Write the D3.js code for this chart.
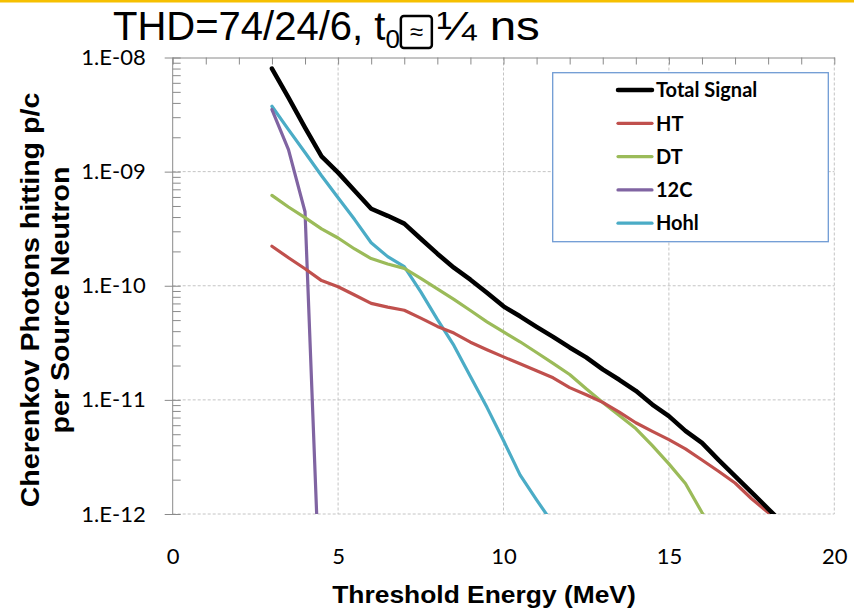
<!DOCTYPE html>
<html>
<head>
<meta charset="utf-8">
<script src="https://cdn.jsdelivr.net/npm/d3@7"></script>
<style>
  body { margin: 0; background: #fff; }
  svg { display: block; }
</style>
</head>
<body>
<div id="chart"></div>
<script>
// threshold energies (MeV)
var energy = [3, 3.5, 4, 4.5, 5, 5.5, 6, 6.5, 7, 7.5, 8, 8.5, 9, 9.5, 10, 10.5,
              11, 11.5, 12, 12.5, 13, 13.5, 14, 14.5, 15, 15.5, 16, 16.5, 17, 17.5, 18, 18.5];

var totalSignal = [8.0e-9, 4.45e-9, 2.43e-9, 1.36e-9, 9.8e-10, 6.8e-10, 4.73e-10, 4.1e-10,
                   3.5e-10, 2.58e-10, 1.91e-10, 1.44e-10, 1.13e-10, 8.7e-11, 6.6e-11, 5.4e-11,
                   4.37e-11, 3.57e-11, 2.88e-11, 2.36e-11, 1.85e-11, 1.5e-11, 1.2e-11, 9.1e-12,
                   7.2e-12, 5.35e-12, 4.2e-12, 2.98e-12, 2.15e-12, 1.55e-12, 1.11e-12, 8.0e-13];

var htSignal = [2.22e-10, 1.76e-10, 1.41e-10, 1.11e-10, 9.8e-11, 8.3e-11, 7.0e-11, 6.5e-11,
                6.1e-11, 5.2e-11, 4.4e-11, 3.85e-11, 3.2e-11, 2.75e-11, 2.38e-11, 2.07e-11,
                1.8e-11, 1.56e-11, 1.28e-11, 1.11e-11, 9.5e-12, 7.8e-12, 6.3e-12, 5.3e-12,
                4.48e-12, 3.72e-12, 2.97e-12, 2.37e-12, 1.87e-12, 1.36e-12, 1.03e-12, 7.6e-13];

var dtSignal = [6.2e-10, 4.9e-10, 3.95e-10, 3.15e-10, 2.62e-10, 2.1e-10, 1.73e-10, 1.55e-10,
                1.42e-10, 1.16e-10, 9.4e-11, 7.6e-11, 6.07e-11, 4.83e-11, 3.94e-11, 3.23e-11,
                2.6e-11, 2.09e-11, 1.67e-11, 1.25e-11, 9.5e-12, 7.3e-12, 5.6e-12, 3.97e-12,
                2.75e-12, 1.85e-12, 1.03e-12, 6.0e-13, null, null, null, null];

var c12Signal = [3.5e-9, 1.56e-9, 4.45e-10, 7.7e-14, null, null, null, null,
                 null, null, null, null, null, null, null, null,
                 null, null, null, null, null, null, null, null,
                 null, null, null, null, null, null, null, null];

var hohlSignal = [3.74e-9, 2.33e-9, 1.47e-9, 9.2e-10, 5.9e-10, 3.8e-10, 2.38e-10, 1.8e-10,
                  1.47e-10, 8.85e-11, 5.07e-11, 3.0e-11, 1.6e-11, 8.6e-12, 4.4e-12, 2.2e-12,
                  1.33e-12, 8.2e-13, null, null, null, null, null, null,
                  null, null, null, null, null, null, null, null];

var seriesNames = ["Total Signal", "HT", "DT", "12C", "Hohl"];
var seriesValues = [totalSignal, htSignal, dtSignal, c12Signal, hohlSignal];
var seriesColors = ["#000000", "#c0504d", "#9bbb59", "#8064a2", "#4bacc6"];
var seriesWidths = [4.5, 3.2, 3.2, 3.2, 3.2];

var xTicks = [0, 5, 10, 15, 20];
var yDecades = [1e-12, 1e-11, 1e-10, 1e-9, 1e-8];

var W = 854, H = 616;
var plotL = 172.7, plotR = 834.3, plotT = 57.5, plotB = 514;

var svg = d3.select("#chart").append("svg")
    .attr("width", W).attr("height", H);

// orange bar along the top of the slide
svg.append("rect").attr("x", 0).attr("y", 0).attr("width", W).attr("height", 2.5)
    .attr("fill", "#f6c000");

var x = d3.scaleLinear().domain([0, 20]).range([plotL, plotR]);
var y = d3.scaleLog().domain([1e-12, 1e-8]).range([plotB, plotT]);

// gridlines
svg.append("g").selectAll("line")
    .data(xTicks.filter(d => d > 0))
    .enter().append("line")
      .attr("x1", d => x(d)).attr("x2", d => x(d))
      .attr("y1", plotT).attr("y2", plotB)
      .attr("stroke", "#c4c4c4").attr("stroke-width", 1)
      .attr("stroke-dasharray", "3,2");

svg.append("g").selectAll("line")
    .data(yDecades.filter(d => d < 1e-8))
    .enter().append("line")
      .attr("x1", plotL).attr("x2", plotR)
      .attr("y1", d => y(d)).attr("y2", d => y(d))
      .attr("stroke", "#c4c4c4").attr("stroke-width", 1)
      .attr("stroke-dasharray", "3,2");

// top axis line with minor ticks hanging down
svg.append("g")
    .attr("transform", "translate(0," + plotT + ")")
    .call(d3.axisTop(x).tickValues(d3.range(0, 21)).tickSize(-7).tickSizeOuter(0).tickFormat(""))
    .call(g => g.selectAll("path, line").attr("stroke", "#8a8a8a"));

// left axis: minor ticks inward
var minor = y.ticks().filter(d => yDecades.indexOf(d) < 0);
svg.append("g")
    .attr("transform", "translate(" + plotL + ",0)")
    .call(d3.axisLeft(y).tickValues(minor).tickSize(-8).tickFormat(""))
    .call(g => g.select(".domain").remove())
    .call(g => g.selectAll("line").attr("stroke", "#8a8a8a"));

// left axis: major ticks across the line
svg.append("g")
    .attr("transform", "translate(" + (plotL + 8) + ",0)")
    .call(d3.axisLeft(y).tickValues(yDecades).tickSize(16).tickFormat(""))
    .call(g => g.select(".domain").remove())
    .call(g => g.selectAll("line").attr("stroke", "#8a8a8a"));

svg.append("line")
    .attr("x1", plotL).attr("x2", plotL).attr("y1", plotT).attr("y2", plotB)
    .attr("stroke", "#8a8a8a");

// y tick labels
svg.append("g")
    .attr("transform", "translate(" + plotL + ",0)")
    .call(d3.axisLeft(y).tickValues(yDecades).tickSize(0).tickPadding(27)
      .tickFormat(d => "1.E-" + String(Math.round(-Math.log10(d))).padStart(2, "0")))
    .call(g => g.select(".domain").remove())
    .call(g => g.selectAll("text")
      .attr("font-family", "Lato, 'Open Sans', sans-serif")
      .attr("font-size", 22).attr("fill", "#000"));

// x tick labels
svg.append("g")
    .attr("transform", "translate(0," + plotB + ")")
    .call(d3.axisBottom(x).tickValues(xTicks).tickSize(0))
    .call(g => g.select(".domain").remove())
    .call(g => g.selectAll("text")
      .attr("y", 50).attr("dy", null)
      .attr("font-family", "Lato, 'Open Sans', sans-serif")
      .attr("font-size", 22).attr("fill", "#000"));

// series lines
svg.append("clipPath").attr("id", "plotclip")
  .append("rect").attr("x", plotL).attr("y", plotT - 10)
    .attr("width", plotR - plotL).attr("height", plotB - plotT + 10);

var line = d3.line()
    .defined(d => d[1] != null)
    .x(d => x(d[0]))
    .y(d => y(d[1]));

var order = [4, 3, 2, 1, 0];
svg.append("g").attr("clip-path", "url(#plotclip)")
  .selectAll("path")
  .data(order)
  .enter().append("path")
    .attr("fill", "none")
    .attr("stroke", i => seriesColors[i])
    .attr("stroke-width", i => seriesWidths[i])
    .attr("stroke-linejoin", "round")
    .attr("stroke-linecap", "round")
    .attr("d", i => line(energy.map((e, k) => [e, seriesValues[i][k]])));

// legend
var legend = svg.append("g");
legend.append("rect")
    .attr("x", 552.7).attr("y", 72.7).attr("width", 275.6).attr("height", 169)
    .attr("fill", "#fff").attr("stroke", "#6f9bd4").attr("stroke-width", 1.3);

var rows = legend.selectAll("g.row")
    .data(seriesNames)
    .enter().append("g")
      .attr("class", "row")
      .attr("transform", (d, i) => "translate(0," + (90 + i * 33.3) + ")");

rows.append("line")
    .attr("x1", 618).attr("x2", 652)
    .attr("stroke", (d, i) => seriesColors[i])
    .attr("stroke-width", (d, i) => seriesWidths[i])
    .attr("stroke-linecap", "round");

rows.append("text")
    .attr("x", 656).attr("dy", "0.36em")
    .attr("font-family", "Lato, 'Open Sans', sans-serif")
    .attr("font-weight", "bold")
    .attr("font-size", 20)
    .text(d => d);

// axis titles (the original text is a little stretched along its length)
svg.append("text")
    .attr("transform", "translate(484,603) scale(1.1,1)")
    .attr("text-anchor", "middle")
    .attr("font-family", "'Liberation Sans', Arial, sans-serif")
    .attr("font-weight", "bold").attr("font-size", 24)
    .text("Threshold Energy (MeV)");

var ytitle = svg.append("text")
    .attr("transform", "translate(0,300) rotate(-90) scale(1.1,1)")
    .attr("text-anchor", "middle")
    .attr("font-family", "'Liberation Sans', Arial, sans-serif")
    .attr("font-weight", "bold").attr("font-size", 26);
ytitle.append("tspan").attr("x", 0).attr("y", 39).text("Cherenkov Photons hitting p/c");
ytitle.append("tspan").attr("x", 0).attr("y", 69).text("per Source Neutron");

// title: the approximate sign shows as a boxed glyph in the original
var title = svg.append("g").attr("font-family", "'Liberation Sans', Arial, sans-serif");
var t1 = title.append("text").attr("x", 113).attr("y", 40).attr("font-size", 40)
    .text("THD=74/24/6, t");
var w1 = t1.node().getComputedTextLength();
var t2 = title.append("text").attr("x", 113 + w1).attr("y", 48).attr("font-size", 26).text("0");
var w2 = t2.node().getComputedTextLength();
var bx = 113 + w1 + w2 + 1;
title.append("rect").attr("x", bx).attr("y", 16).attr("width", 31).attr("height", 32)
    .attr("rx", 3).attr("fill", "#fff").attr("stroke", "#000").attr("stroke-width", 2.5);
title.append("text").attr("x", bx + 15.5).attr("y", 40).attr("text-anchor", "middle")
    .attr("font-size", 24).text("≈");
title.append("text").attr("x", bx + 36).attr("y", 40).attr("font-size", 40)
    .attr("textLength", 103).attr("lengthAdjust", "spacingAndGlyphs")
    .text("¼ ns");
</script>
</body>
</html>
